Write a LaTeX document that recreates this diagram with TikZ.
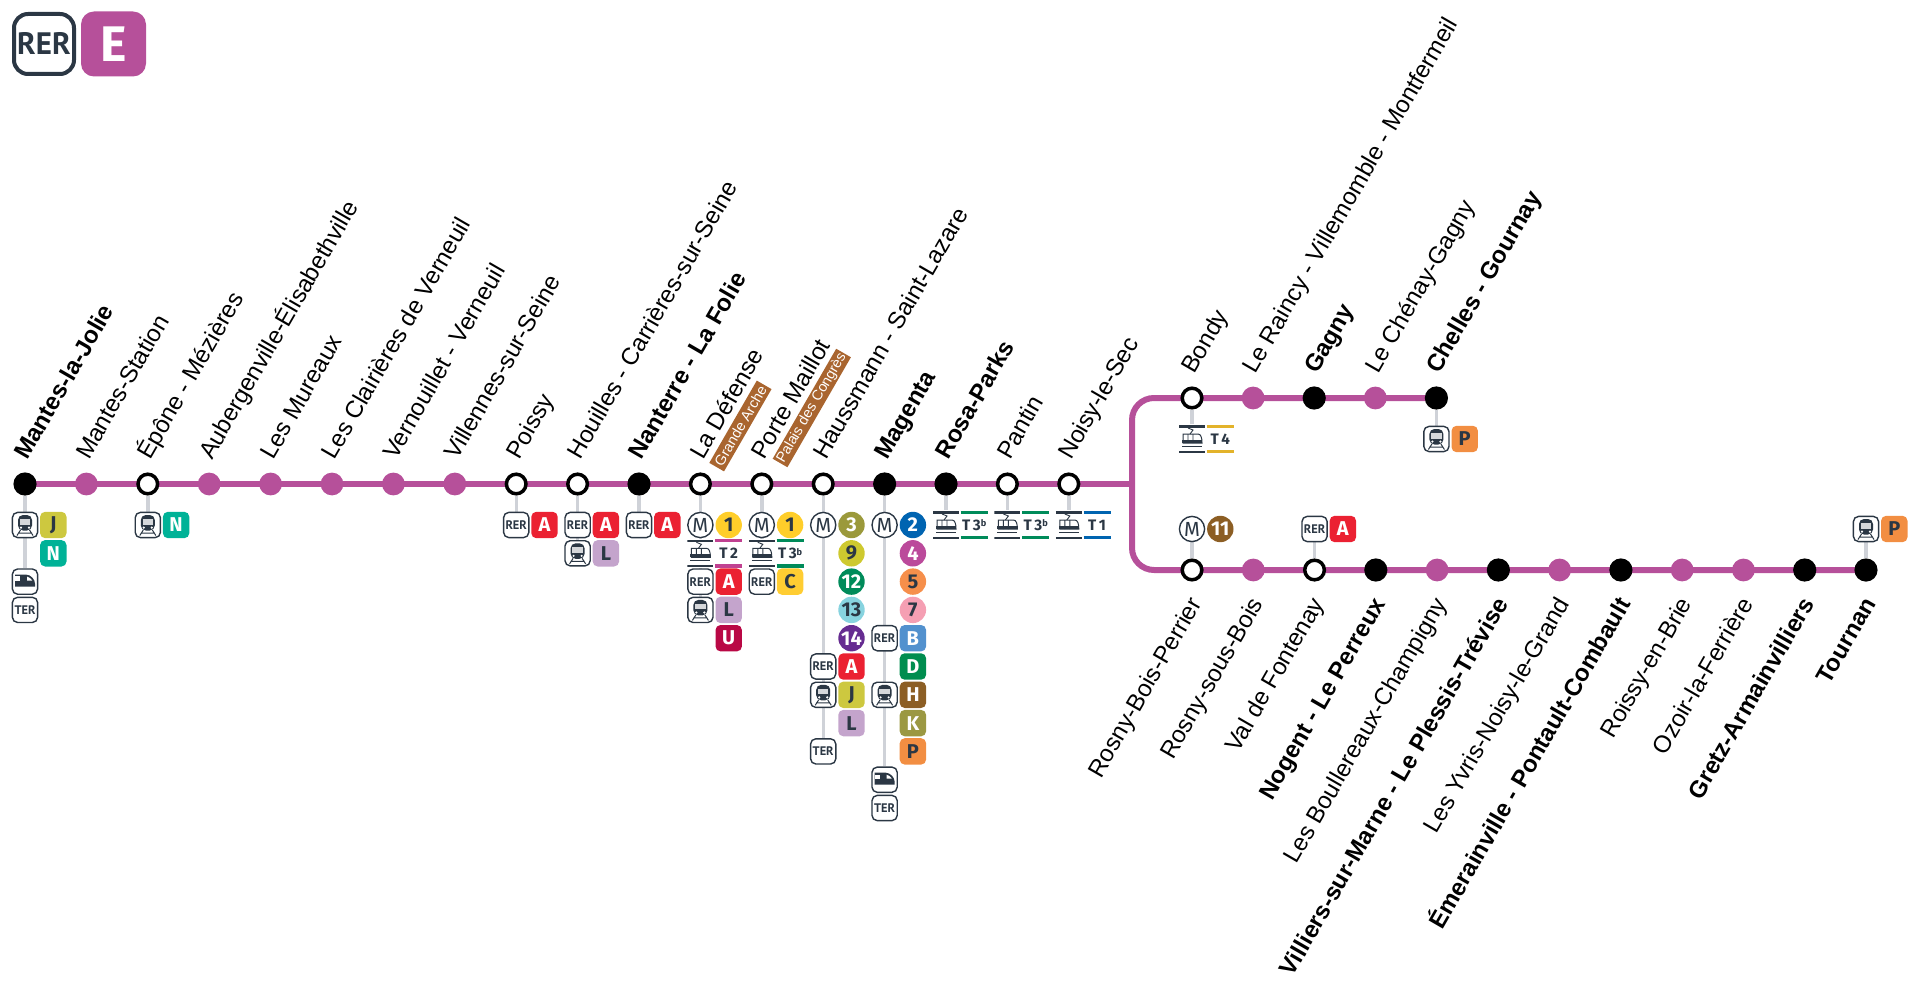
\documentclass[tikz,border=0pt]{standalone}
\usepackage{fontspec}
\setmainfont{Liberation Sans}
\newfontfamily\signfont{Fira Sans}
\newfontfamily\icofont{PT Sans}
\usetikzlibrary{calc,positioning,backgrounds}
\definecolor{lineE}{HTML}{B6509A}
\definecolor{navy}{HTML}{2B3744}
\definecolor{stemc}{HTML}{CFD2D8}
\definecolor{tagc}{HTML}{A9652F}
\definecolor{cA}{HTML}{EB2132}
\definecolor{cB}{HTML}{5291CE}
\definecolor{cC}{HTML}{FFCD32}
\definecolor{cD}{HTML}{008D4F}
\definecolor{cH}{HTML}{8C5E24}
\definecolor{cJ}{HTML}{CDC83F}
\definecolor{cK}{HTML}{9B9842}
\definecolor{cL}{HTML}{C4A4CC}
\definecolor{cN}{HTML}{00B297}
\definecolor{cP}{HTML}{F28E42}
\definecolor{cU}{HTML}{B90845}
\definecolor{mA}{HTML}{FFCE2A}
\definecolor{mB}{HTML}{0064B1}
\definecolor{mC}{HTML}{9B993B}
\definecolor{mD}{HTML}{BB4A9B}
\definecolor{mE}{HTML}{F68F4B}
\definecolor{mG}{HTML}{F59FB3}
\definecolor{mI}{HTML}{CEC92F}
\definecolor{mK}{HTML}{8C5E24}
\definecolor{mL}{HTML}{008B5A}
\definecolor{mM}{HTML}{87D3DF}
\definecolor{mN}{HTML}{662C91}
\definecolor{tB}{HTML}{C04191}
\definecolor{tC}{HTML}{008B5A}
\definecolor{tA}{HTML}{0064B0}
\definecolor{tD}{HTML}{E3B32A}
\newcommand{\tb}{3\raisebox{.4ex}{\fontsize{4.6}{5}\selectfont b}}
\tikzset{
 minst/.style={circle,fill=lineE,inner sep=0,minimum size=11.4pt},
 majst/.style={circle,fill=black,inner sep=0,minimum size=11.6pt},
 opnst/.style={circle,draw=black,fill=white,line width=1.75pt,inner sep=0,minimum size=9.8pt},
 uplbl/.style={rotate=60,anchor=west,inner sep=0,text height=8.5pt,text depth=2pt,font=\fontsize{12}{13}\selectfont},
 dnlbl/.style={rotate=60,anchor=east,inner sep=0,text height=8.5pt,text depth=2pt,font=\fontsize{12}{13}\selectfont},
 majstlbl/.style={font=\bfseries\fontsize{12}{13}\selectfont},
 tag/.style={rotate=60,fill=tagc,text=white,inner sep=0,minimum height=8.5pt,font=\fontsize{7.2}{8}\selectfont},
 stem/.style={draw=stemc,line width=1.7pt},
 lineto/.style={draw=lineE,line width=3pt},
 trbar/.style={line width=1.6pt},
 iconbox/.style={draw=navy,fill=white,rounded corners=2.6pt,line width=.7pt,inner sep=0,minimum size=12.6pt,text=navy,
  font=\icofont\bfseries\fontsize{6.2}{7}\selectfont},
 rerico/.style={iconbox,node contents=RER},
 terico/.style={iconbox,node contents=TER},
 metroico/.style={iconbox,circle,node contents={\signfont\fontsize{10.2}{10.5}\mdseries\selectfont M}},
 trainico/.style={iconbox,node contents={},path picture={
  \begin{scope}[shift={(path picture bounding box.center)},sharp corners]
  \fill[navy,rounded corners=2.5pt] (-7,-10) rectangle (7,5.5);
  \fill[white!80!navy] (-5.2,-6) rectangle (5.2,-.5);
  \fill[white] (-4,2.6) circle (.6pt) (4,2.6) circle (.6pt);
  \draw[navy,line width=.5pt] (-4.5,5)--(-8,10.5) (4.5,5)--(8,10.5) (-7,8)--(7,8);
  \end{scope}}},
 tgvico/.style={iconbox,node contents={},path picture={
  \begin{scope}[shift={(path picture bounding box.center)},sharp corners]
  \fill[navy] (-10,-7) -- (1,-7) .. controls (6,-7) and (10,-2) .. (10,2) -- (10,5) -- (-10,5) -- cycle;
  \fill[white] (2,-5) .. controls (4,-4.6) and (6,-3) .. (7.3,-1) -- (2,-1) -- cycle;
  \fill[white] (-10,-5.2) rectangle (-5,-1);
  \end{scope}}},
 tramico/.style={fill=white,inner sep=0,minimum width=13pt,minimum height=14.4pt,node contents={},path picture={
  \begin{scope}[shift={(path picture bounding box.center)},sharp corners]
  \draw[navy,line width=1.1pt] (-13,-12.6)--(13,-12.6) (-13,12.6)--(13,12.6);
  \draw[navy,line width=.5pt] (-9,-5) -- (6,-5) .. controls (9,-5) and (10,-1) .. (10,4) -- (-9,4) -- cycle;
  \draw[navy,line width=.45pt] (-4,-5)--(-4,4) (1,-5)--(1,4) (-2,-5)--(1,-9)--(-4,-11);
  \fill[navy] (-10,1) rectangle (10,4);
  \draw[navy,line width=.5pt] (-10,7)--(10,7);
  \end{scope}}},
 sqbadge/.style={rounded corners=2.5pt,inner sep=0,minimum size=13.2pt,font=\signfont\bfseries\fontsize{10}{10}\selectfont},
 rdbadge/.style={circle,inner sep=0,minimum size=13.2pt,font=\signfont\bfseries\fontsize{10}{10}\selectfont},
 trbadge/.style={inner sep=0,minimum width=13.2pt,minimum height=12.2pt,text=navy,font=\signfont\bfseries\fontsize{7.6}{8}\selectfont}
}
\begin{document}
\begin{tikzpicture}[x=.5pt,y=-.5pt]
\useasboundingbox (0,0) rectangle (1920,989);
\node[draw=navy,line width=2pt,rounded corners=7pt,inner sep=0,minimum size=30pt,text=navy,font=\icofont\bfseries\fontsize{15.5}{16}\selectfont] (rerbox) at (44,44) {RER};
\node[fill=lineE,rounded corners=6.5pt,inner sep=0,minimum size=32.5pt,text=white,font=\signfont\bfseries\fontsize{25}{25}\selectfont] (ebox) at (113.5,44) {E};
\foreach \i/\kind/\name in {0/majst/Mantes-la-Jolie,1/minst/Mantes-Station,2/opnst/Épône - Mézières,3/minst/Aubergenville-Élisabethville,4/minst/Les Mureaux,5/minst/Les Clairières de Verneuil,6/minst/Vernouillet - Verneuil,7/minst/Villennes-sur-Seine,8/opnst/Poissy,9/opnst/Houilles - Carrières-sur-Seine,10/majst/Nanterre - La Folie,11/opnst/La Défense,12/opnst/Porte Maillot,13/opnst/Haussmann - Saint-Lazare,14/majst/Magenta,15/majst/Rosa-Parks,16/opnst/Pantin,17/opnst/Noisy-le-Sec}{
 \node[\kind] (s\i) at ({25+61.4*\i},484) {};
 \node[uplbl,\kind lbl/.try] (ls\i) at ($(s\i)+(-3,-26)$) {\name};
}
\foreach \i/\kind/\name in {0/opnst/Bondy,1/minst/Le Raincy - Villemomble - Montfermeil,2/majst/Gagny,3/minst/Le Chénay-Gagny,4/majst/Chelles - Gournay}{
 \node[\kind] (u\i) at ({1192+61.1*\i},398) {};
 \node[uplbl,\kind lbl/.try] (lu\i) at ($(u\i)+(-3,-26)$) {\name};
}
\foreach \i/\kind/\name in {0/opnst/Rosny-Bois-Perrier,1/minst/Rosny-sous-Bois,2/opnst/Val de Fontenay,3/majst/Nogent - Le Perreux,4/minst/Les Boullereaux-Champigny,5/majst/Villiers-sur-Marne - Le Plessis-Trévise,6/minst/Les Yvris-Noisy-le-Grand,7/majst/Émerainville - Pontault-Combault,8/minst/Roissy-en-Brie,9/minst/Ozoir-la-Ferrière,10/majst/Gretz-Armainvilliers,11/majst/Tournan}{
 \node[\kind] (d\i) at ({1192+61.27*\i},570) {};
 \node[dnlbl,\kind lbl/.try] (ld\i) at ($(d\i)+(5,30)$) {\name};
}
\coordinate (jn) at (1132,484);
\node[tag,minimum width=47.5pt] (ga) at ($(s11)+(40,-58)$) {Grande Arche};
\node[tag,minimum width=63.5pt] (pc) at ($(s12)+(50,-76)$) {Palais des Congrès};
\foreach \st/\rw/\kind in {s0/0/trainico,s0/2/tgvico,s0/3/terico,s2/0/trainico,s8/0/rerico,s9/0/rerico,s9/1/trainico,s10/0/rerico,s11/0/metroico,s11/1/tramico,s11/2/rerico,s11/3/trainico,s12/0/metroico,s12/1/tramico,s12/2/rerico,s13/0/metroico,s13/5/rerico,s13/6/trainico,s13/8/terico,s14/0/metroico,s14/4/rerico,s14/6/trainico,s14/9/tgvico,s14/10/terico,s15/0/tramico,s16/0/tramico,s17/0/tramico}{
 \node (i\st r\rw) at ($(\st)+(0,41+28.3*\rw)$) [\kind];
}
\node (iu0) at ($(u0)+(0,41)$) [tramico];
\node (iu4) at ($(u4)+(0,41)$) [trainico];
\node (id0) at ($(d0)+(0,-41)$) [metroico];
\node (id2) at ($(d2)+(0,-41)$) [rerico];
\node (id11) at ($(d11)+(0,-41)$) [trainico];
\foreach \st/\rw/\shp/\txt/\col/\fg in {s0/0/sqbadge/J/cJ/navy,s0/1/sqbadge/N/cN/white,s2/0/sqbadge/N/cN/white,s8/0/sqbadge/A/cA/white,s9/0/sqbadge/A/cA/white,s9/1/sqbadge/L/cL/navy,s10/0/sqbadge/A/cA/white,s11/0/rdbadge/1/mA/navy,s11/2/sqbadge/A/cA/white,s11/3/sqbadge/L/cL/navy,s11/4/sqbadge/U/cU/white,s12/0/rdbadge/1/mA/navy,s12/2/sqbadge/C/cC/navy,s13/0/rdbadge/3/mC/white,s13/1/rdbadge/9/mI/navy,s13/2/rdbadge/12/mL/white,s13/3/rdbadge/13/mM/navy,s13/4/rdbadge/14/mN/white,s13/5/sqbadge/A/cA/white,s13/6/sqbadge/J/cJ/navy,s13/7/sqbadge/L/cL/navy,s14/0/rdbadge/2/mB/white,s14/1/rdbadge/4/mD/white,s14/2/rdbadge/5/mE/navy,s14/3/rdbadge/7/mG/navy,s14/4/sqbadge/B/cB/white,s14/5/sqbadge/D/cD/white,s14/6/sqbadge/H/cH/white,s14/7/sqbadge/K/cK/white,s14/8/sqbadge/P/cP/navy}{
 \node[\shp,fill=\col,text=\fg] (b\st r\rw) at ($(\st)+(28.3,41+28.3*\rw)$) {\txt};
}
\foreach \st/\rw/\txt/\col in {s11/1/T\,2/tB,s12/1/{T\,\tb}/tC,s15/0/{T\,\tb}/tC,s16/0/{T\,\tb}/tC,s17/0/{T\,1}/tA}{
 \node[trbadge] (b\st r\rw) at ($(\st)+(28.3,41+28.3*\rw)$) {\txt};
 \draw[trbar,\col] (b\st r\rw.north west) -- (b\st r\rw.north east) (b\st r\rw.south west) -- (b\st r\rw.south east);
}
\node[trbadge] (bu0) at ($(u0)+(28.3,41)$) {T\,4};
\draw[trbar,tD] (bu0.north west) -- (bu0.north east) (bu0.south west) -- (bu0.south east);
\node[sqbadge,fill=cP,text=navy] (bu4) at ($(u4)+(28.3,41)$) {P};
\node[rdbadge,fill=mK,text=white] (bd0) at ($(d0)+(28.3,-41)$) {11};
\node[sqbadge,fill=cA,text=white] (bd2) at ($(d2)+(28.3,-41)$) {A};
\node[sqbadge,fill=cP,text=navy] (bd11) at ($(d11)+(28.3,-41)$) {P};
\begin{pgfonlayer}{background}
\foreach \st/\rw in {s0/2,s2/0,s8/0,s9/1,s10/0,s11/3,s12/2,s13/8,s14/9,s15/0,s16/0,s17/0}{\draw[stem] (\st) -- (i\st r\rw);}
\foreach \st in {u0,u4,d0,d2,d11}{\draw[stem] (\st) -- (i\st);}
\draw[lineto] (s0.center) -- (s17.center) -- (jn);
\draw[lineto,rounded corners=11pt] (u4.center) -- (u0.center) -| (jn) |- (d0.center) -- (d11.center);
\end{pgfonlayer}
\end{tikzpicture}
\end{document}
